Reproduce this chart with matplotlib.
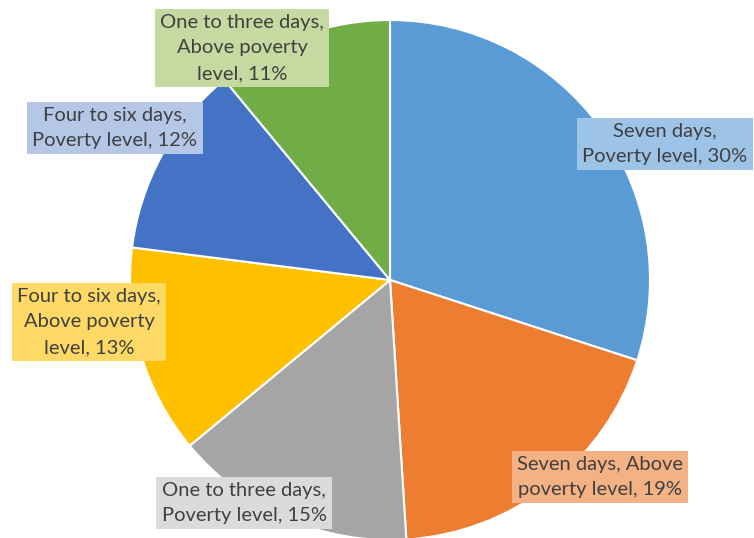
import matplotlib.pyplot as plt

# Share of days by group, drawn clockwise from 12 o'clock
labels = [
    "Seven days,\nPoverty level, 30%",
    "Seven days, Above\npoverty level, 19%",
    "One to three days,\nPoverty level, 15%",
    "Four to six days,\nAbove poverty\nlevel, 13%",
    "Four to six days,\nPoverty level, 12%",
    "One to three days,\nAbove poverty\nlevel, 11%",
]
shares = [30, 19, 15, 13, 12, 11]
colors = ["#5B9BD5", "#ED7D31", "#A5A5A5", "#FFC000", "#4472C4", "#70AD47"]
label_fills = ["#9DC3E6", "#F4B183", "#DBDBDB", "#FFD966", "#B4C7E7", "#C5D9A0"]

# label centres in pixel space (x from left, y from top)
label_xy = [(665, 144), (600, 477), (244, 503), (89, 322), (115, 128), (242, 48)]

W, H = 754, 538
fig = plt.figure(figsize=(W / 100, H / 100), dpi=100)
ax = fig.add_axes([0, 0, 1, 1])

ax.pie(
    shares,
    colors=colors,
    startangle=90,
    counterclock=False,
    center=(390, H - 280),
    radius=260,
    frame=True,
    wedgeprops=dict(edgecolor="white", linewidth=1.5),
)
ax.set_xlim(0, W)
ax.set_ylim(0, H)
ax.axis("off")

for text, (x, y), fill in zip(labels, label_xy, label_fills):
    ax.text(
        x, H - y, text,
        ha="center", va="center", multialignment="center",
        fontsize=14.5, color="#404040", family="Lato", linespacing=1.6,
        bbox=dict(boxstyle="square,pad=0.25", facecolor=fill, edgecolor="none"),
    )

fig.savefig("out.png", dpi=100)
